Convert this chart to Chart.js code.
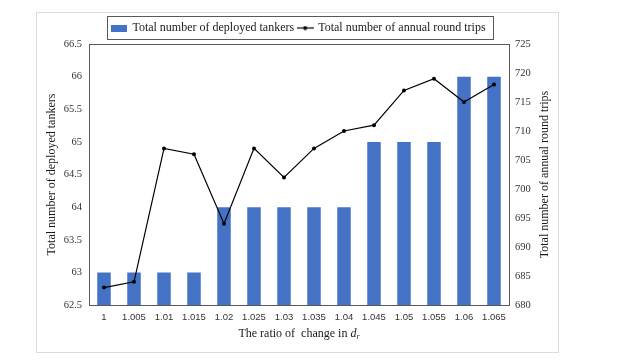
<!DOCTYPE html>
<html><head><meta charset="utf-8">
<script src="https://cdn.jsdelivr.net/npm/chart.js@4.4.0/dist/chart.umd.min.js"></script>
<style>html,body{margin:0;padding:0;background:#fff;}#wrap{width:637px;height:364px;position:relative;}</style>
</head><body><div id="wrap"><canvas id="c" width="637" height="364"></canvas></div>
<script>
const categories = ['1','1.005','1.01','1.015','1.02','1.025','1.03','1.035','1.04','1.045','1.05','1.055','1.06','1.065'];
const tankers = [63,63,63,63,64,64,64,64,64,65,65,65,66,66];
const roundTrips = [683,684,707,706,694,707,702,707,710,711,717,719,715,718];
const leftTicks = [62.5,63,63.5,64,64.5,65,65.5,66,66.5];
const rightTicks = [680,685,690,695,700,705,710,715,720,725];
const seriesNames = ['Total number of deployed tankers','Total number of annual round trips'];
const leftTitle = 'Total number of deployed tankers';
const rightTitle = 'Total number of annual round trips';
const xTitle = 'The ratio of  change in ';

const SERIF = '"Liberation Serif", "Times New Roman", serif';
const BLUE = '#4472C4';

function makeBox(){const c=document.createElement('canvas');c.width=16;c.height=7;const x=c.getContext('2d');x.fillStyle=BLUE;x.fillRect(0,0,16,7);return c;}
function makeLine(){const c=document.createElement('canvas');c.width=17;c.height=5;const x=c.getContext('2d');x.strokeStyle='#000';x.lineWidth=1.2;x.beginPath();x.moveTo(0,2.5);x.lineTo(17,2.5);x.stroke();x.fillStyle='#000';x.beginPath();x.arc(8.5,2.5,2,0,Math.PI*2);x.fill();return c;}
const legendImgs=[makeBox(),makeLine()];

const extras = {
  id:'extras',
  afterDraw(chart){
    const ctx=chart.ctx, ca=chart.chartArea;
    ctx.save();
    // outer light frame
    ctx.strokeStyle='#dcdcdc';ctx.lineWidth=1;
    ctx.strokeRect(36.5,12.5,522,340);
    // plot frame
    ctx.strokeStyle='#595959';ctx.lineWidth=1;
    ctx.strokeRect(Math.round(ca.left)+0.5,Math.round(ca.top)+0.5,Math.round(ca.right-ca.left),Math.round(ca.bottom-ca.top));
    // legend frame
    const lg=chart.legend;
    if(lg && lg.legendHitBoxes && lg.legendHitBoxes.length){
      const hb=lg.legendHitBoxes;const first=hb[0],last=hb[hb.length-1];
      const l=first.left-5, r=last.left+last.width+8;
      const cy=first.top+first.height/2;
      ctx.strokeStyle='#595959';
      ctx.strokeRect(Math.round(l)+0.5,Math.round(cy-12)+0.5,Math.round(r-l),23);
    }
    // right title
    ctx.fillStyle='#1a1a1a';
    ctx.font='12px '+SERIF;
    ctx.textAlign='center';ctx.textBaseline='middle';
    ctx.translate(545,(ca.top+ca.bottom)/2);
    ctx.rotate(-Math.PI/2);
    ctx.fillText(rightTitle,0,0);
    ctx.restore();
    // bottom title with italic d and subscript r
    ctx.save();
    ctx.fillStyle='#1a1a1a';ctx.textBaseline='middle';ctx.textAlign='left';
    const f1='12px '+SERIF, f2='italic 12px '+SERIF, f3='italic 8px '+SERIF;
    ctx.font=f1;const w1=ctx.measureText(xTitle).width;
    ctx.font=f2;const w2=ctx.measureText('d').width;
    ctx.font=f3;const w3=ctx.measureText('r').width;
    const tot=w1+w2+w3;const cx=(ca.left+ca.right)/2;const y=334;
    let x=cx-tot/2;
    ctx.font=f1;ctx.fillText(xTitle,x,y);x+=w1;
    ctx.font=f2;ctx.fillText('d',x,y);x+=w2;
    ctx.font=f3;ctx.fillText('r',x,y+3);
    ctx.restore();
  }
};

new Chart(document.getElementById('c'),{
  data:{
    labels:categories,
    datasets:[
      {type:'bar',label:seriesNames[0],data:tankers,backgroundColor:BLUE,yAxisID:'y',order:1,barPercentage:0.45,categoryPercentage:1},
      {type:'line',label:seriesNames[1],data:roundTrips,borderColor:'#000',backgroundColor:'#000',borderWidth:1.2,pointRadius:2,pointBackgroundColor:'#000',pointBorderWidth:0,yAxisID:'y1',order:0,tension:0}
    ]
  },
  options:{
    responsive:false,animation:false,devicePixelRatio:1,
    layout:{padding:{left:36,right:78,top:18,bottom:11}},
    plugins:{
      tooltip:{enabled:false},
      legend:{
        position:'top',fullSize:false,
        labels:{
          usePointStyle:true,pointStyleWidth:14,padding:4,
          font:{family:SERIF,size:12},color:'#1a1a1a',
          generateLabels(chart){
            return chart.data.datasets.map((ds,i)=>({text:ds.label,pointStyle:legendImgs[i],datasetIndex:i,hidden:false,fillStyle:'transparent',strokeStyle:'transparent',lineWidth:0,fontColor:'#1a1a1a'}));
          }
        }
      }
    },
    scales:{
      x:{
        grid:{display:false,drawTicks:false},border:{display:false},
        ticks:{font:{family:'"Liberation Sans", Arial, sans-serif',size:9.5},color:'#333',padding:7,maxRotation:0,autoSkip:false},
        afterFit(s){s.height=48;}
      },
      y:{
        position:'left',min:62.5,max:66.5,
        grid:{display:false,drawTicks:false},border:{display:false},
        afterBuildTicks(s){s.ticks=leftTicks.map(v=>({value:v}));},
        ticks:{font:{family:SERIF,size:10.5},color:'#333',padding:7,callback:(v)=>String(v)},
        title:{display:true,text:leftTitle,font:{family:SERIF,size:12},color:'#1a1a1a',padding:{top:9,bottom:0}},
        afterFit(s){s.width=53;}
      },
      y1:{
        position:'right',min:680,max:725,
        grid:{display:false,drawTicks:false},border:{display:false},
        afterBuildTicks(s){s.ticks=rightTicks.map(v=>({value:v}));},
        ticks:{font:{family:SERIF,size:10.5},color:'#333',padding:6,callback:(v)=>String(v)},
        afterFit(s){s.width=50;}
      }
    }
  },
  plugins:[extras]
});
</script></body></html>
